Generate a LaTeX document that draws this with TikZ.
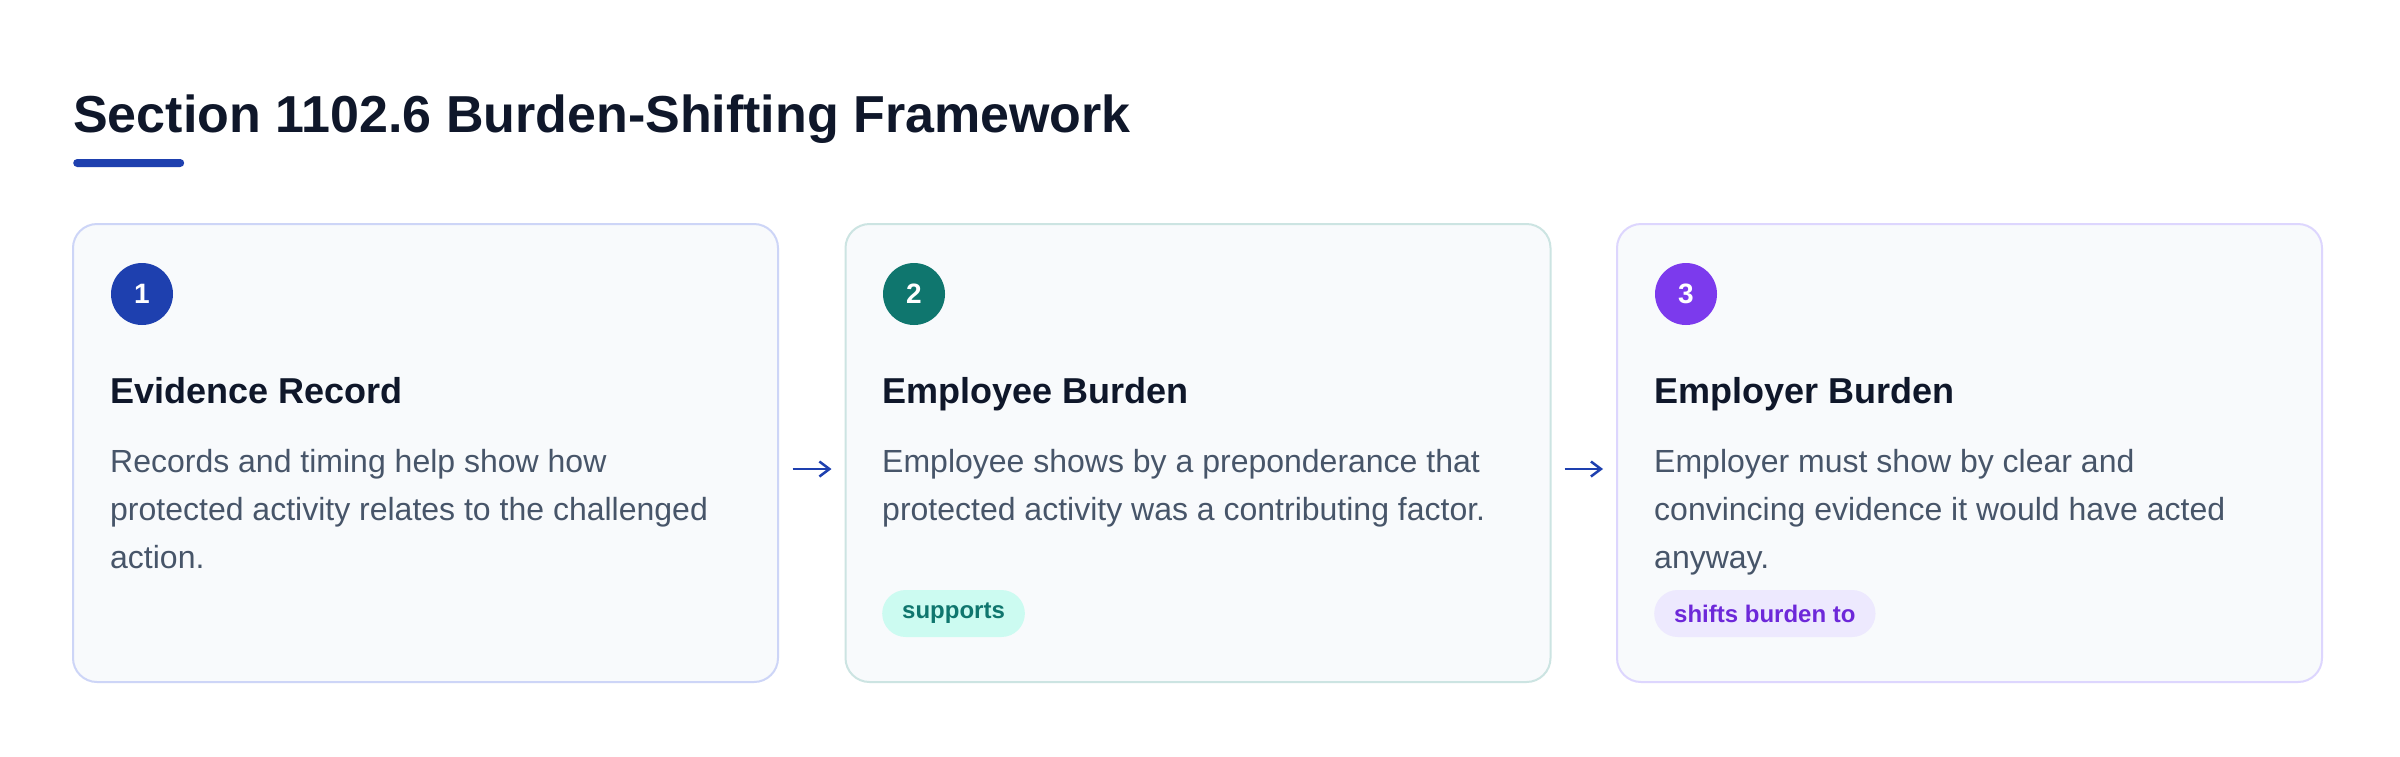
\documentclass[tikz,border=0pt]{standalone}
\usepackage{fontspec}
\setmainfont{Liberation Sans}
\usetikzlibrary{arrows.meta}
\definecolor{ink}{HTML}{0F172A}
\definecolor{bodytxt}{HTML}{475569}
\definecolor{blueA}{HTML}{1E40AF}
\definecolor{tealA}{HTML}{0F766E}
\definecolor{purpA}{HTML}{7C3AED}
\definecolor{cardbg}{HTML}{F8FAFC}
\definecolor{bordA}{HTML}{CDD5F7}
\definecolor{bordB}{HTML}{CCE4E2}
\definecolor{bordC}{HTML}{DDD6FE}
\definecolor{pillB}{HTML}{CCFBF1}
\definecolor{pillC}{HTML}{EDE9FE}
\definecolor{pilltxtC}{HTML}{6D28D9}
\begin{document}
\begin{tikzpicture}[x=1pt,y=-1pt,
  card/.style={rectangle, rounded corners=24pt, fill=cardbg, line width=2pt,
    minimum width=705pt, minimum height=458pt, inner sep=0pt},
  numdot/.style={circle, minimum size=62pt, inner sep=0pt, text=white,
    font=\fontsize{28}{28}\selectfont\bfseries},
  heading/.style={anchor=base west, inner sep=0pt, text=ink,
    font=\fontsize{36}{36}\selectfont\bfseries},
  bodyline/.style={anchor=base west, inner sep=0pt, text=bodytxt,
    font=\fontsize{32}{32}\selectfont},
  pill/.style={rectangle, rounded corners=23.5pt, minimum height=47pt, inner xsep=20pt,
    inner ysep=0pt, anchor=west, font=\fontsize{24}{24}\selectfont\bfseries},
  flow/.style={draw=blueA, line width=2.5pt, -{Straight Barb[length=10pt,width=15pt]}}
]
\useasboundingbox[fill=white] (0,0) rectangle (2400,756);

% title
\node[anchor=base west, inner sep=0pt, text=ink, font=\fontsize{52}{52}\selectfont\bfseries]
  (title) at (73,132) {Section 1102.6 Burden-Shifting Framework};
\node[rectangle, fill=blueA, rounded corners=4pt, minimum width=111pt, minimum height=8pt,
  inner sep=0pt, anchor=west] (bar) at (73,163) {};

% cards
\node[card, draw=bordA] (card1) at (425.5,453) {};
\node[card, draw=bordB] (card2) at (1198,453) {};
\node[card, draw=bordC] (card3) at (1969.5,453) {};

% number dots
\node[numdot, fill=blueA] (n1) at (142,294) {1};
\node[numdot, fill=tealA] (n2) at (914,294) {2};
\node[numdot, fill=purpA] (n3) at (1686,294) {3};

% headings
\node[heading] (h1) at (110,403) {Evidence Record};
\node[heading] (h2) at (882,403) {Employee Burden};
\node[heading] (h3) at (1654,403) {Employer Burden};

% body text
\node[bodyline] (t1a) at (110,472) {Records and timing help show how};
\node[bodyline] (t1b) at (110,520) {protected activity relates to the challenged};
\node[bodyline] (t1c) at (110,568) {action.};

\node[bodyline] (t2a) at (882,472) {Employee shows by a preponderance that};
\node[bodyline] (t2b) at (882,520) {protected activity was a contributing factor.};

\node[bodyline] (t3a) at (1654,472) {Employer must show by clear and};
\node[bodyline] (t3b) at (1654,520) {convincing evidence it would have acted};
\node[bodyline] (t3c) at (1654,568) {anyway.};

% pills
\node[pill, fill=pillB, text=tealA] (p2) at (882,613.5) {supports};
\node[pill, fill=pillC, text=pilltxtC] (p3) at (1654,613.5) {shifts burden to};

% arrows
\draw[flow, shorten <=13.5pt, shorten >=13pt] ([yshift=-16pt]card1.east) -- ([yshift=-16pt]card2.west);
\draw[flow, shorten <=13pt, shorten >=13pt] ([yshift=-16pt]card2.east) -- ([yshift=-16pt]card3.west);
\end{tikzpicture}
\end{document}
